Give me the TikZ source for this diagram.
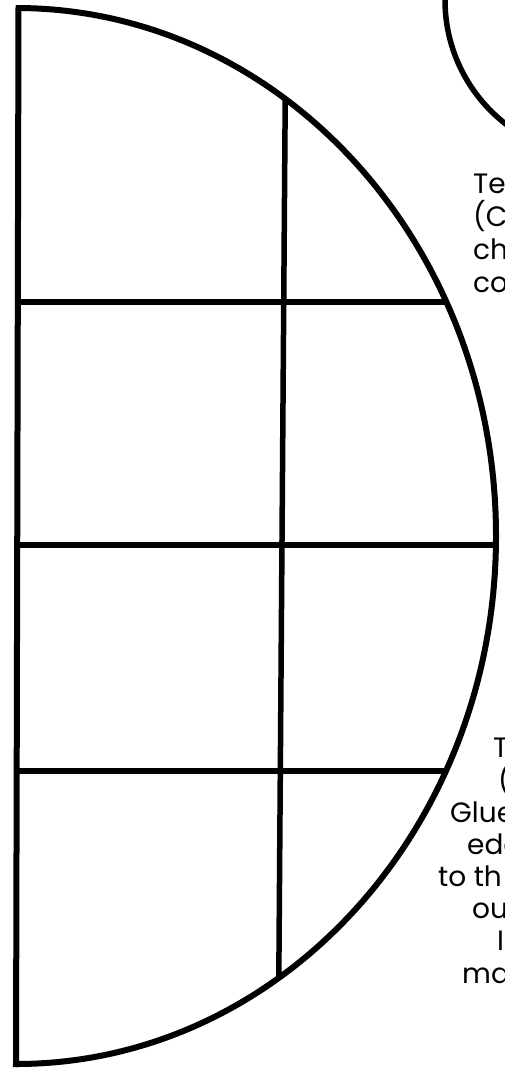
\documentclass[tikz,border=0pt]{standalone}
\usepackage{fontspec}
\setmainfont{Poppins}
\usetikzlibrary{positioning}
\tikzset{
  outline/.style={black, line width=6pt},
  gridline/.style={black, line width=5.5pt},
  cuttext/.style={anchor=base west, inner sep=0pt, font=\fontsize{28}{33}\selectfont},
}
\begin{document}
\begin{tikzpicture}[x=1pt,y=-1pt]
\useasboundingbox (0,0) rectangle (504,1070);

% grid inside the half disc
\begin{scope}
\clip (18.5,9) -- (16,1064) arc[start angle=90, end angle=-90, x radius=480, y radius=528] -- cycle;
\foreach \y in {302, 545, 771} {
  \draw[gridline] (0,\y) -- (520,\y);
}
\draw[gridline] (285.5,60) -- (278.5,1020);
\end{scope}

% half disc outline
\draw[outline] (16,1064) arc[start angle=90, end angle=-90, x radius=480, y radius=528];
\draw[outline, line cap=rect] (18.5,8.5) -- (16,1064);

% circle at the top right
\draw[outline, line width=5.5pt] (602,0) circle (157);

% text cut off at the right edge
\foreach \xx/\yy/\txt in {473/193/Te, 473/226/{(Cu}, 473/259/ch, 473/292/co} {
  \node[cuttext] (up\yy) at (\xx,\yy) {\txt};
}
\foreach \xx/\yy/\txt in {493/757/T, 498/790/{(}, 450/822/Glue, 467/854/edg, 438/886/{to th}, 472/918/ou, 497/950/I, 462/983/ma} {
  \node[cuttext] (low\yy) at (\xx,\yy) {\txt};
}

\end{tikzpicture}
\end{document}
